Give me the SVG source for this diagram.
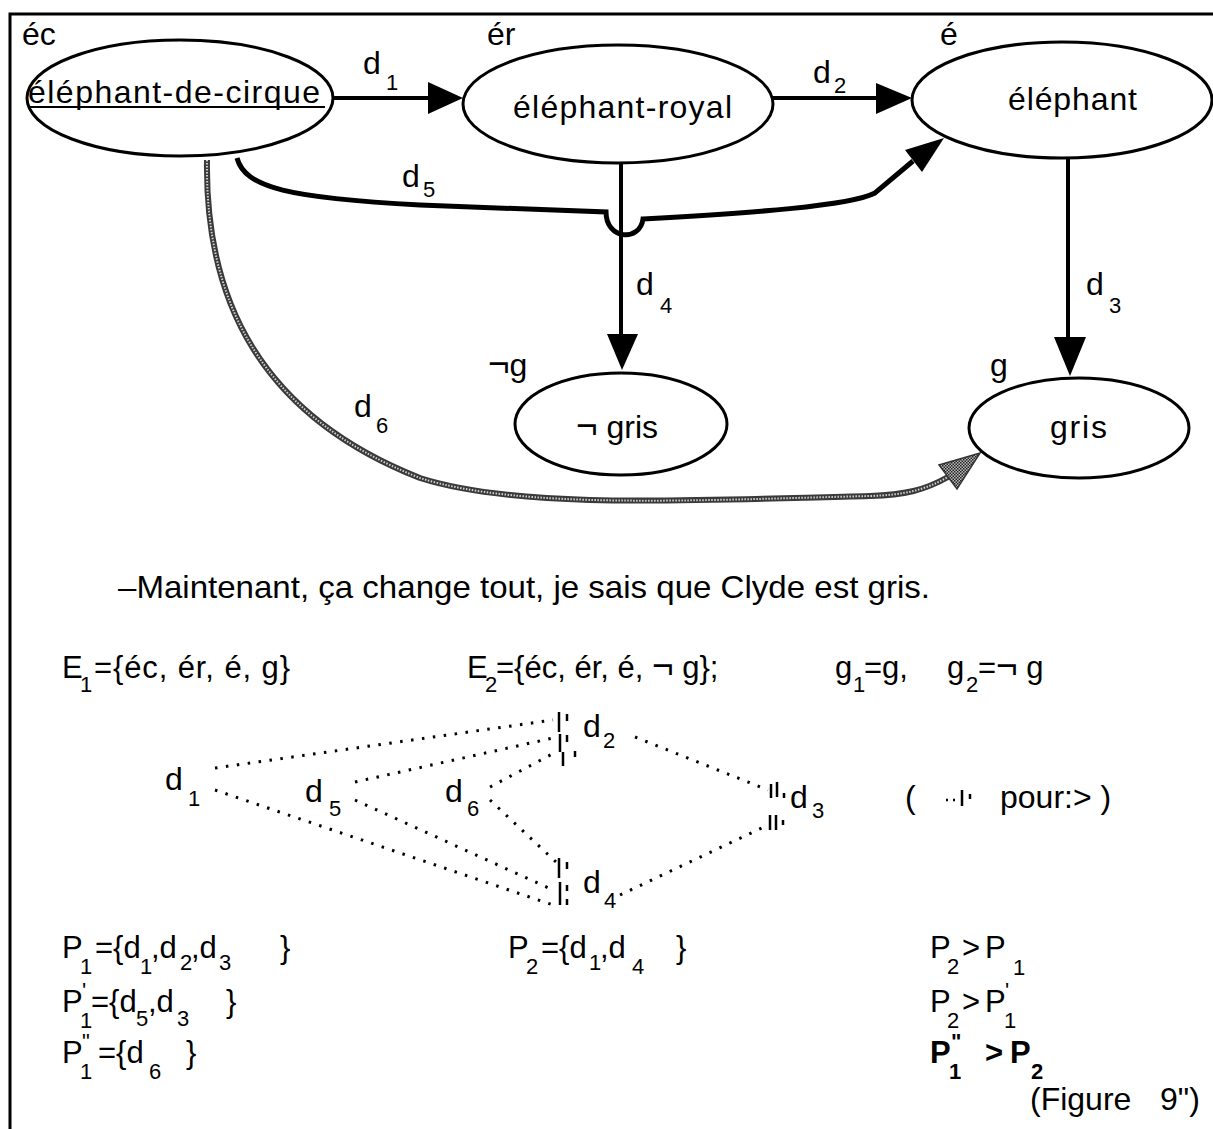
<svg xmlns="http://www.w3.org/2000/svg" width="1213" height="1129" viewBox="0 0 1213 1129">
<style>
text{font-family:"Liberation Sans",Arial,Helvetica,sans-serif;fill:#000;font-size:32px}
.s{font-size:22px}
.m{font-size:31px}
.b{font-weight:bold}
.neg{font-size:37px}
.node{fill:#fff;stroke:#000;stroke-width:3}
.edge{fill:none;stroke:#000;stroke-width:4}
.thick{fill:none;stroke:#000;stroke-width:5}
.ah{fill:#000}
.dot{fill:none;stroke:#000;stroke-width:3;stroke-dasharray:2.5 8.5}
.bar{stroke:#000;stroke-width:2.5;fill:none}
.bead{fill:none;stroke:#3a3a3a;stroke-width:6}
.beadin{fill:none;stroke:#d0d0d0;stroke-width:2;stroke-dasharray:1.5 1.5}
</style>
<defs>
<pattern id="chk" width="3" height="3" patternUnits="userSpaceOnUse">
<rect width="3" height="3" fill="#bbb"/><rect width="1.5" height="1.5" fill="#222"/><rect x="1.5" y="1.5" width="1.5" height="1.5" fill="#222"/>
</pattern>
</defs>
<rect x="0" y="0" width="1213" height="1129" fill="#fff"/>
<path d="M10,1129 V14 H1213" fill="none" stroke="#000" stroke-width="3"/>

<g id="connectors">
<!-- d1 -->
<line class="edge" x1="333" y1="98" x2="430" y2="98"/>
<polygon class="ah" points="463,98 428,82 428,114"/>
<!-- d2 -->
<line class="edge" x1="773" y1="98" x2="878" y2="98"/>
<polygon class="ah" points="912,98 876,83 876,114"/>
<!-- d4 -->
<line class="edge" x1="621" y1="163" x2="621" y2="338"/>
<polygon class="ah" points="622,370 607,334 638,334"/>
<!-- d3 -->
<line class="edge" x1="1068" y1="158" x2="1068" y2="340"/>
<polygon class="ah" points="1070,376 1054,337 1086,337"/>
<!-- d5 -->
<path class="thick" d="M237,158 C245,188 290,198 420,205 L606,212 C606,240 640,242 643,219 C750,213 850,206 875,193 L913,161"/>
<polygon class="ah" points="944,138 922,172 905,150"/>
<!-- d6 -->
<path class="bead" d="M207,160 C205,300 260,415 420,478 C520,510 700,500 870,496 C905,495 925,490 948,477"/>
<path class="beadin" d="M207,160 C205,300 260,415 420,478 C520,510 700,500 870,496 C905,495 925,490 948,477"/>
<polygon points="980,453 957,489 939,465" fill="url(#chk)" stroke="#333" stroke-width="1.5"/>
<!-- labels -->
<text x="363" y="74">d</text><text class="s" x="386" y="90">1</text>
<text x="813" y="83">d</text><text class="s" x="834" y="93">2</text>
<text x="402" y="187">d</text><text class="s" x="423" y="197">5</text>
<text x="636" y="295">d</text><text class="s" x="660" y="313">4</text>
<text x="1086" y="295">d</text><text class="s" x="1109" y="313">3</text>
<text x="354" y="417">d</text><text class="s" x="376" y="433">6</text>
</g>

<g id="node-ec">
<ellipse class="node" cx="180" cy="98" rx="153" ry="58"/>
<text x="22" y="45">éc</text>
<text x="28" y="103" textLength="292" lengthAdjust="spacing">éléphant-de-cirque</text>
<line x1="28" y1="107" x2="325" y2="107" stroke="#000" stroke-width="2"/>
</g>
<g id="node-er">
<ellipse class="node" cx="618" cy="104" rx="155" ry="59"/>
<text x="487" y="45">ér</text>
<text x="513" y="118" textLength="219" lengthAdjust="spacing">éléphant-royal</text>
</g>
<g id="node-e">
<ellipse class="node" cx="1062" cy="100" rx="150" ry="58"/>
<text x="940" y="45">é</text>
<text x="1008" y="110" textLength="129" lengthAdjust="spacing">éléphant</text>
</g>
<g id="node-ng">
<ellipse class="node" cx="621" cy="424" rx="106" ry="51"/>
<text x="488" y="376"><tspan class="neg">¬</tspan>g</text>
<text x="576" y="438"><tspan class="neg">¬</tspan> gris</text>
</g>
<g id="node-g">
<ellipse class="node" cx="1079" cy="428" rx="110" ry="50"/>
<text x="990" y="376">g</text>
<text x="1050" y="438" textLength="57" lengthAdjust="spacing">gris</text>
</g>

<g id="text-block">
<text x="118" y="598" textLength="812" lengthAdjust="spacingAndGlyphs">–Maintenant, ça change tout, je sais que Clyde est gris.</text>

<text class="m" x="62" y="678">E</text><text class="s" x="80" y="692">1</text><text class="m" x="94" y="678" textLength="196" lengthAdjust="spacing">={éc, ér, é, g}</text>
<text class="m" x="467" y="678">E</text><text class="s" x="485" y="692">2</text><text class="m" x="496" y="678">={éc, ér, é, <tspan class="neg">¬</tspan> g};</text>
<text class="m" x="835" y="678">g</text><text class="s" x="853" y="692">1</text><text class="m" x="864" y="678">=g,</text>
<text class="m" x="947" y="678">g</text><text class="s" x="966" y="692">2</text><text class="m" x="978" y="678">=<tspan class="neg">¬</tspan> g</text>
</g>

<g id="lattice">
<line class="dot" x1="215" y1="768" x2="553" y2="720"/>
<line class="dot" x1="215" y1="790" x2="553" y2="905"/>
<line class="dot" x1="355" y1="782" x2="553" y2="738"/>
<line class="dot" x1="355" y1="800" x2="553" y2="890"/>
<line class="dot" x1="490" y1="787" x2="556" y2="752"/>
<line class="dot" x1="490" y1="800" x2="556" y2="862"/>
<line class="dot" x1="635" y1="737" x2="768" y2="790"/>
<line class="dot" x1="620" y1="895" x2="768" y2="825"/>
<path class="bar" d="M559,712 V732 M560,734 V752 M563,752 V766 M567,714 V721 M567,735 V742 M575,751 V757"/>
<path class="bar" d="M559,858 V878 M560,882 V905 M567,862 V869 M567,885 V891 M567,899 V905"/>
<path class="bar" d="M771,784 V798 M777,782 V797 M784,793 V798 M770,815 V830 M776,815 V830 M783,820 V825"/>
<text x="165" y="790">d</text><text class="s" x="188" y="806">1</text>
<text x="305" y="802">d</text><text class="s" x="329" y="816">5</text>
<text x="445" y="802">d</text><text class="s" x="467" y="816">6</text>
<text x="583" y="737">d</text><text class="s" x="603" y="748">2</text>
<text x="583" y="893">d</text><text class="s" x="604" y="908">4</text>
<text x="790" y="808">d</text><text class="s" x="812" y="818">3</text>
<text x="905" y="808">(</text>
<path class="bar" d="M946,800 h2 M953,800 h2 M962,790 V806 M970,794 V799"/>
<text x="1000" y="808">pour:&gt; )</text>
</g>

<g id="paths-block">
<text class="m" x="62" y="958">P</text><text class="s" x="80" y="974">1</text><text class="m" x="95" y="958">={d</text><text class="s" x="140" y="974">1</text><text class="m" x="151" y="958">,d</text><text class="s" x="180" y="970">2</text><text class="m" x="191" y="958">,d</text><text class="s" x="219" y="970">3</text><text class="m" x="280" y="958">}</text>

<text class="m" x="62" y="1012">P</text><text class="s" x="82" y="998">'</text><text class="s" x="80" y="1028">1</text><text class="m" x="91" y="1012">={d</text><text class="s" x="136" y="1026">5</text><text class="m" x="148" y="1012">,d</text><text class="s" x="177" y="1026">3</text><text class="m" x="226" y="1012">}</text>

<text class="m" x="62" y="1063">P</text><text class="s" x="82" y="1049">"</text><text class="s" x="80" y="1079">1</text><text class="m" x="98" y="1063">={d</text><text class="s" x="149" y="1079">6</text><text class="m" x="186" y="1063">}</text>

<text class="m" x="508" y="958">P</text><text class="s" x="526" y="974">2</text><text class="m" x="541" y="958">={d</text><text class="s" x="589" y="970">1</text><text class="m" x="600" y="958">,d</text><text class="s" x="632" y="974">4</text><text class="m" x="676" y="958">}</text>

<text class="m" x="930" y="958">P</text><text class="s" x="947" y="974">2</text><text class="m" x="962" y="958">&gt;</text><text class="m" x="985" y="958">P</text><text class="s" x="1013" y="975">1</text>
<text class="m" x="930" y="1012">P</text><text class="s" x="947" y="1028">2</text><text class="m" x="962" y="1012">&gt;</text><text class="m" x="985" y="1012">P</text><text class="s" x="1005" y="998">'</text><text class="s" x="1004" y="1028">1</text>
<text class="m b" x="930" y="1063">P</text><text class="s b" x="951" y="1049">"</text><text class="s b" x="949" y="1079">1</text><text class="m b" x="985" y="1063">&gt;</text><text class="m b" x="1010" y="1063">P</text><text class="s b" x="1031" y="1079">2</text>
<text x="1030" y="1110">(Figure <tspan x="1160">9")</tspan></text>
</g>
</svg>
